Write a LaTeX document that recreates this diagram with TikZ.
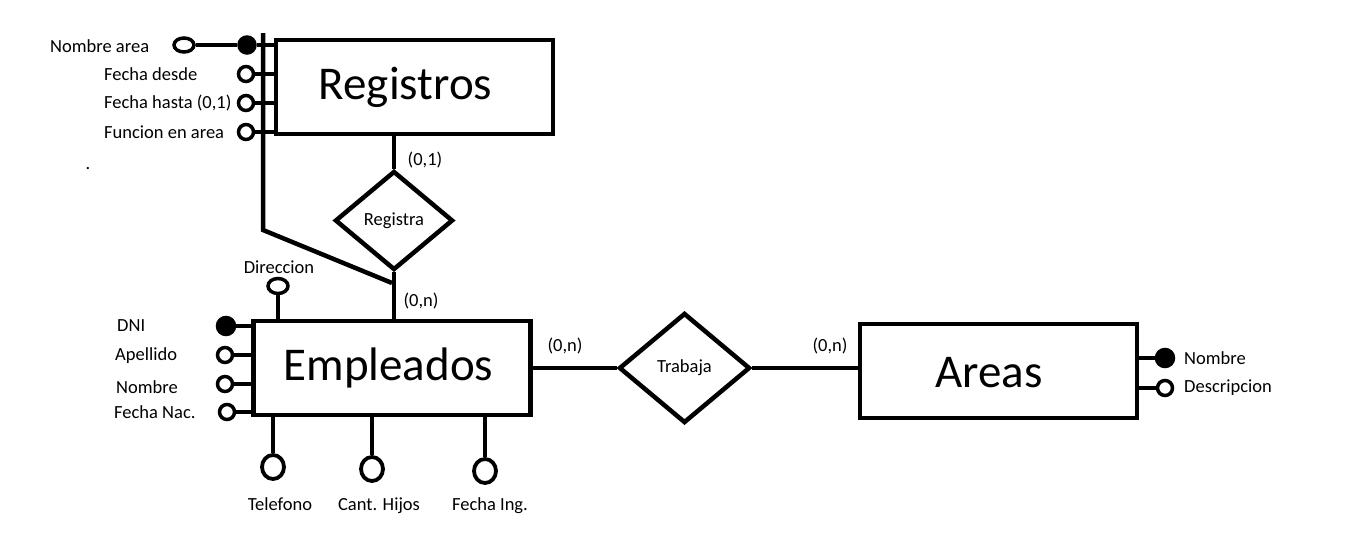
\documentclass[tikz,border=0pt]{standalone}
\usepackage{fontspec}
\setmainfont{Carlito}
\usetikzlibrary{shapes.geometric}
\begin{document}
\begin{tikzpicture}[x=1pt,y=-1pt,
  ent/.style={draw,line width=4.5pt,rectangle,minimum width=277pt,minimum height=94pt,inner sep=0pt},
  big/.style={font=\fontsize{47}{50}\selectfont,inner sep=0pt},
  rel/.style={draw,line width=4.5pt,diamond,inner sep=0pt,font=\fontsize{18.5}{20}\selectfont},
  oatt/.style={draw,line width=3.5pt,circle,minimum size=15pt,inner sep=0pt,fill=white},
  katt/.style={draw,line width=3.5pt,circle,minimum size=16pt,inner sep=0pt,fill=black},
  batt/.style={draw,line width=3.8pt,ellipse,minimum width=22pt,minimum height=24pt,inner sep=0pt,fill=white},
  lbl/.style={font=\fontsize{18.5}{20}\selectfont,inner sep=0pt},
  conn/.style={line width=4.5pt}]
\useasboundingbox (0,0) rectangle (1366,541);

% entities
\node[ent] (reg) at (414.5,87) {};
\node[big] (regt) at (405.5,87) {Registros};
\node[ent] (emp) at (392,368) {};
\node[big] (empt) at (388.5,368) {Empleados};
\node[ent] (are) at (998.5,371) {};
\node[big] (aret) at (989,373) {Areas};

% relationships
\node[rel,minimum width=118pt,minimum height=99pt] (rga) at (394,220.5) {Registra};
\node[rel,minimum width=131pt,minimum height=110pt] (tra) at (684.5,368) {Trabaja};

% Registros attributes
\node[draw,line width=3.5pt,ellipse,minimum width=20pt,minimum height=14pt,inner sep=0pt] (nae) at (184,45) {};
\node[katt] (nak) at (247,45) {};
\node[oatt] (fd) at (246,74) {};
\node[oatt] (fh) at (246,103) {};
\node[oatt] (fa) at (246,132) {};
\node[lbl,anchor=west] (lna) at (50,46) {Nombre area};
\node[lbl,anchor=west] (lfd) at (104,74) {Fecha desde};
\node[lbl,anchor=west] (lfh) at (104,103) {Fecha hasta (0,1)};
\node[lbl,anchor=west] (lfa) at (104,132) {Funcion en area};
\node[lbl] (dot) at (88,169) {.};

\draw[conn] (nae.east) -- (nak.west);
\draw[conn] (nak.east) -- (nak.east -| reg.west);
\draw[conn] (fd.east) -- (fd.east -| reg.west);
\draw[conn] (fh.east) -- (fh.east -| reg.west);
\draw[conn] (fa.east) -- (fa.east -| reg.west);

% aggregation line
\coordinate (vtop) at (263,33);
\coordinate (vbend) at (263,230);
\coordinate (join) at (392,283);
\draw[conn,line join=miter] (vtop) -- (vbend) -- (join);

% Registra connectors
\draw[conn] (reg.south -| rga.north) -- (rga.north);
\draw[conn] (rga.south) -- (rga.south |- emp.north);
\node[lbl] (c01) at (425,160) {(0,1)};
\node[lbl] (c0n) at (421,301) {(0,n)};

% Empleados attributes
\node[draw,line width=3.5pt,ellipse,minimum width=20pt,minimum height=15pt,inner sep=0pt] (dir) at (278,286) {};
\node[lbl] (ldir) at (279,267) {Direccion};
\draw[conn] (dir.south) -- (dir.south |- emp.north);

\node[katt,minimum size=17pt] (dni) at (226,326) {};
\node[oatt] (ape) at (225,355) {};
\node[oatt] (nom) at (225,384) {};
\node[oatt] (fna) at (227,412) {};
\draw[conn] (dni.east) -- (dni.east -| emp.west);
\draw[conn] (ape.east) -- (ape.east -| emp.west);
\draw[conn] (nom.east) -- (nom.east -| emp.west);
\draw[conn] (fna.east) -- (fna.east -| emp.west);
\node[lbl,anchor=west] (ldni) at (117,326) {DNI};
\node[lbl,anchor=west] (lape) at (115,356) {Apellido};
\node[lbl,anchor=west] (lnom) at (116,387) {Nombre};
\node[lbl,anchor=west] (lfna) at (114,412) {Fecha Nac.};

\node[batt] (tel) at (273,467) {};
\node[batt] (can) at (372,469) {};
\node[batt] (fin) at (485,471) {};
\draw[conn] (tel.north |- emp.south) -- (tel.north);
\draw[conn] (can.north |- emp.south) -- (can.north);
\draw[conn] (fin.north |- emp.south) -- (fin.north);
\node[lbl] (ltel) at (280,504) {Telefono};
\node[lbl] (lcan) at (379,506) {Cant. Hijos};
\node[lbl] (lfin) at (490,506) {Fecha Ing.};

% Trabaja connectors
\draw[conn] (tra.west -| emp.east) -- (tra.west);
\draw[conn] (tra.east) -- (tra.east -| are.west);
\node[lbl] (c0n2) at (565,346) {(0,n)};
\node[lbl] (c0n3) at (830,346) {(0,n)};

% Areas attributes
\node[katt,minimum size=17pt] (ank) at (1165,358) {};
\node[oatt] (ade) at (1165,388) {};
\draw[conn] (ank.west -| are.east) -- (ank.west);
\draw[conn] (ade.west -| are.east) -- (ade.west);
\node[lbl,anchor=west] (lan) at (1184,358) {Nombre};
\node[lbl,anchor=west] (lad) at (1184,388) {Descripcion};
\end{tikzpicture}
\end{document}
